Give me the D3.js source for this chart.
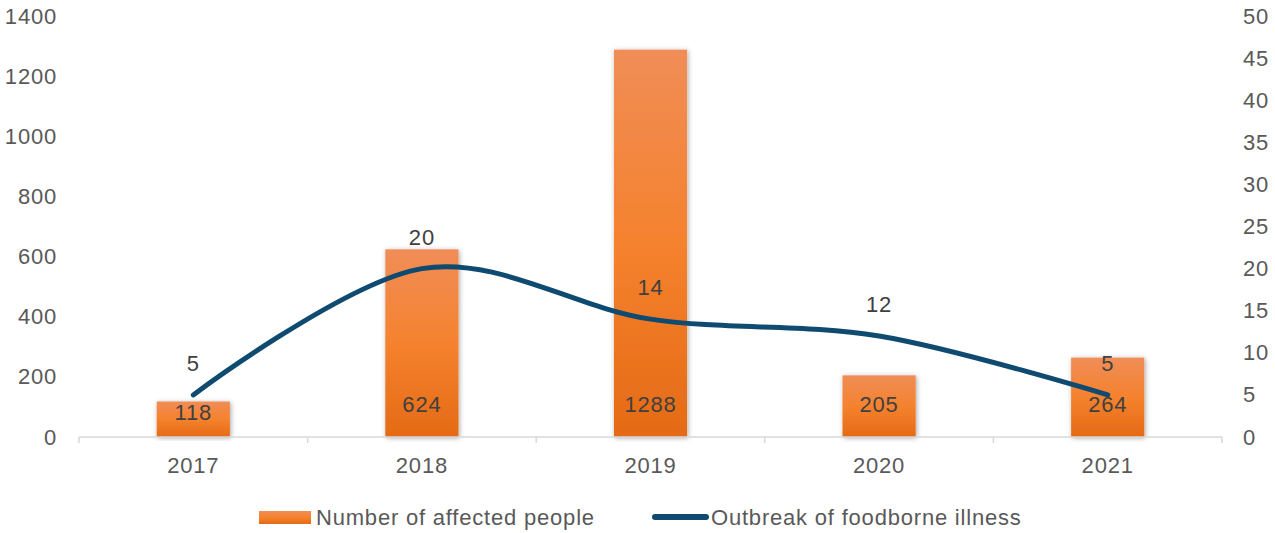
<!DOCTYPE html>
<html>
<head>
<meta charset="utf-8">
<script src="https://cdn.jsdelivr.net/npm/d3@7"></script>
<style>
  body { margin: 0; background: #fff; }
  svg { display: block; font-family: "Liberation Sans", Arial, sans-serif; }
  svg text { letter-spacing: 0.8px; }
</style>
</head>
<body>
<svg class="chart"></svg>
<script>
const years = ['2017', '2018', '2019', '2020', '2021']
const affected = [118, 624, 1288, 205, 264]
const outbreaks = [5, 20, 14, 12, 5]
const leftTicks = [0, 200, 400, 600, 800, 1000, 1200, 1400]
const rightTicks = [0, 5, 10, 15, 20, 25, 30, 35, 40, 45, 50]

const width = 1275, height = 533
const margin = { top: 16, right: 53, bottom: 96, left: 79 }
const fontSize = '22px'
const svg = d3.select('.chart').attr('width', width).attr('height', height)

const x = d3.scaleBand()
  .domain(years)
  .range([margin.left, width - margin.right])
  .paddingInner(0.68)
  .paddingOuter(0.34)
const yLeft = d3.scaleLinear().domain([0, 1400]).range([height - margin.bottom, margin.top])
const yRight = d3.scaleLinear().domain([0, 50]).range([height - margin.bottom, margin.top])
const step = (width - margin.left - margin.right) / years.length

const defs = svg.append('defs')
const grad = defs.append('linearGradient')
  .attr('id', 'barGrad').attr('x1', 0).attr('y1', 0).attr('x2', 0).attr('y2', 1)
grad.append('stop').attr('offset', '0%').attr('stop-color', '#f08d57')
grad.append('stop').attr('offset', '50%').attr('stop-color', '#f5822e')
grad.append('stop').attr('offset', '100%').attr('stop-color', '#e56a15')

const shadow = defs.append('filter').attr('id', 'shadow')
  .attr('x', '-30%').attr('y', '-10%').attr('width', '160%').attr('height', '120%')
shadow.append('feDropShadow')
  .attr('dx', 1).attr('dy', 1).attr('stdDeviation', 2.5)
  .attr('flood-color', '#000').attr('flood-opacity', 0.35)

// left axis
svg.append('g')
  .attr('transform', `translate(${margin.left - 22},0)`)
  .call(d3.axisLeft(yLeft).tickValues(leftTicks).tickFormat(d3.format('d')).tickSize(0).tickPadding(0))
  .call(g => g.select('.domain').remove())
  .call(g => g.selectAll('text').attr('fill', '#595959').style('font-size', fontSize))

// right axis
svg.append('g')
  .attr('transform', `translate(${width - margin.right + 21},0)`)
  .call(d3.axisRight(yRight).tickValues(rightTicks).tickSize(0).tickPadding(0))
  .call(g => g.select('.domain').remove())
  .call(g => g.selectAll('text').attr('fill', '#595959').style('font-size', fontSize))

// bars
svg.append('g').selectAll('rect')
  .data(affected)
  .join('rect')
  .attr('x', (d, i) => x(years[i]))
  .attr('y', d => yLeft(d))
  .attr('width', x.bandwidth())
  .attr('height', d => yLeft(0) - yLeft(d))
  .attr('fill', 'url(#barGrad)')
  .attr('filter', 'url(#shadow)')

// category axis
const base = yLeft(0)
const xAxis = svg.append('g')
xAxis.append('line')
  .attr('x1', margin.left).attr('x2', width - margin.right)
  .attr('y1', base).attr('y2', base)
  .attr('stroke', '#d9d9d9').attr('stroke-width', 1.5)
xAxis.selectAll('.tick-mark')
  .data(d3.range(years.length + 1))
  .join('line')
  .attr('x1', i => margin.left + i * step).attr('x2', i => margin.left + i * step)
  .attr('y1', base).attr('y2', base + 6)
  .attr('stroke', '#d9d9d9').attr('stroke-width', 1.5)
xAxis.selectAll('text')
  .data(years)
  .join('text')
  .attr('x', d => x(d) + x.bandwidth() / 2)
  .attr('y', base + 36)
  .attr('text-anchor', 'middle')
  .attr('fill', '#595959')
  .style('font-size', fontSize)
  .text(d => d)

// line
const line = d3.line()
  .x((d, i) => x(years[i]) + x.bandwidth() / 2)
  .y(d => yRight(d))
  .curve(d3.curveCardinal.tension(0))
svg.append('path')
  .datum(outbreaks)
  .attr('d', line)
  .attr('fill', 'none')
  .attr('stroke', '#0f4a70')
  .attr('stroke-width', 5)
  .attr('stroke-linecap', 'round')

// bar labels (inside base)
svg.append('g').selectAll('text')
  .data(affected)
  .join('text')
  .attr('x', (d, i) => x(years[i]) + x.bandwidth() / 2)
  .attr('y', d => Math.max(base - 33, yLeft(d) + 10) + 8)
  .attr('text-anchor', 'middle')
  .attr('fill', '#404040')
  .style('font-size', fontSize)
  .text(d => d)

// line labels
svg.append('g').selectAll('text')
  .data(outbreaks)
  .join('text')
  .attr('x', (d, i) => x(years[i]) + x.bandwidth() / 2)
  .attr('y', d => yRight(d) - 24)
  .attr('text-anchor', 'middle')
  .attr('fill', '#404040')
  .style('font-size', fontSize)
  .text(d => d)

// legend
const legend = svg.append('g').attr('transform', 'translate(0,517)')
legend.append('rect')
  .attr('x', 259).attr('y', -6).attr('width', 52).attr('height', 13)
  .attr('fill', 'url(#barGrad)')
legend.append('text')
  .attr('x', 316).attr('y', 8)
  .attr('fill', '#595959').style('font-size', fontSize)
  .text('Number of affected people')
legend.append('line')
  .attr('x1', 655).attr('x2', 706).attr('y1', 0).attr('y2', 0)
  .attr('stroke', '#0f4a70').attr('stroke-width', 6).attr('stroke-linecap', 'round')
legend.append('text')
  .attr('x', 711).attr('y', 8)
  .attr('fill', '#595959').style('font-size', fontSize)
  .text('Outbreak of foodborne illness')
</script>
</body>
</html>
